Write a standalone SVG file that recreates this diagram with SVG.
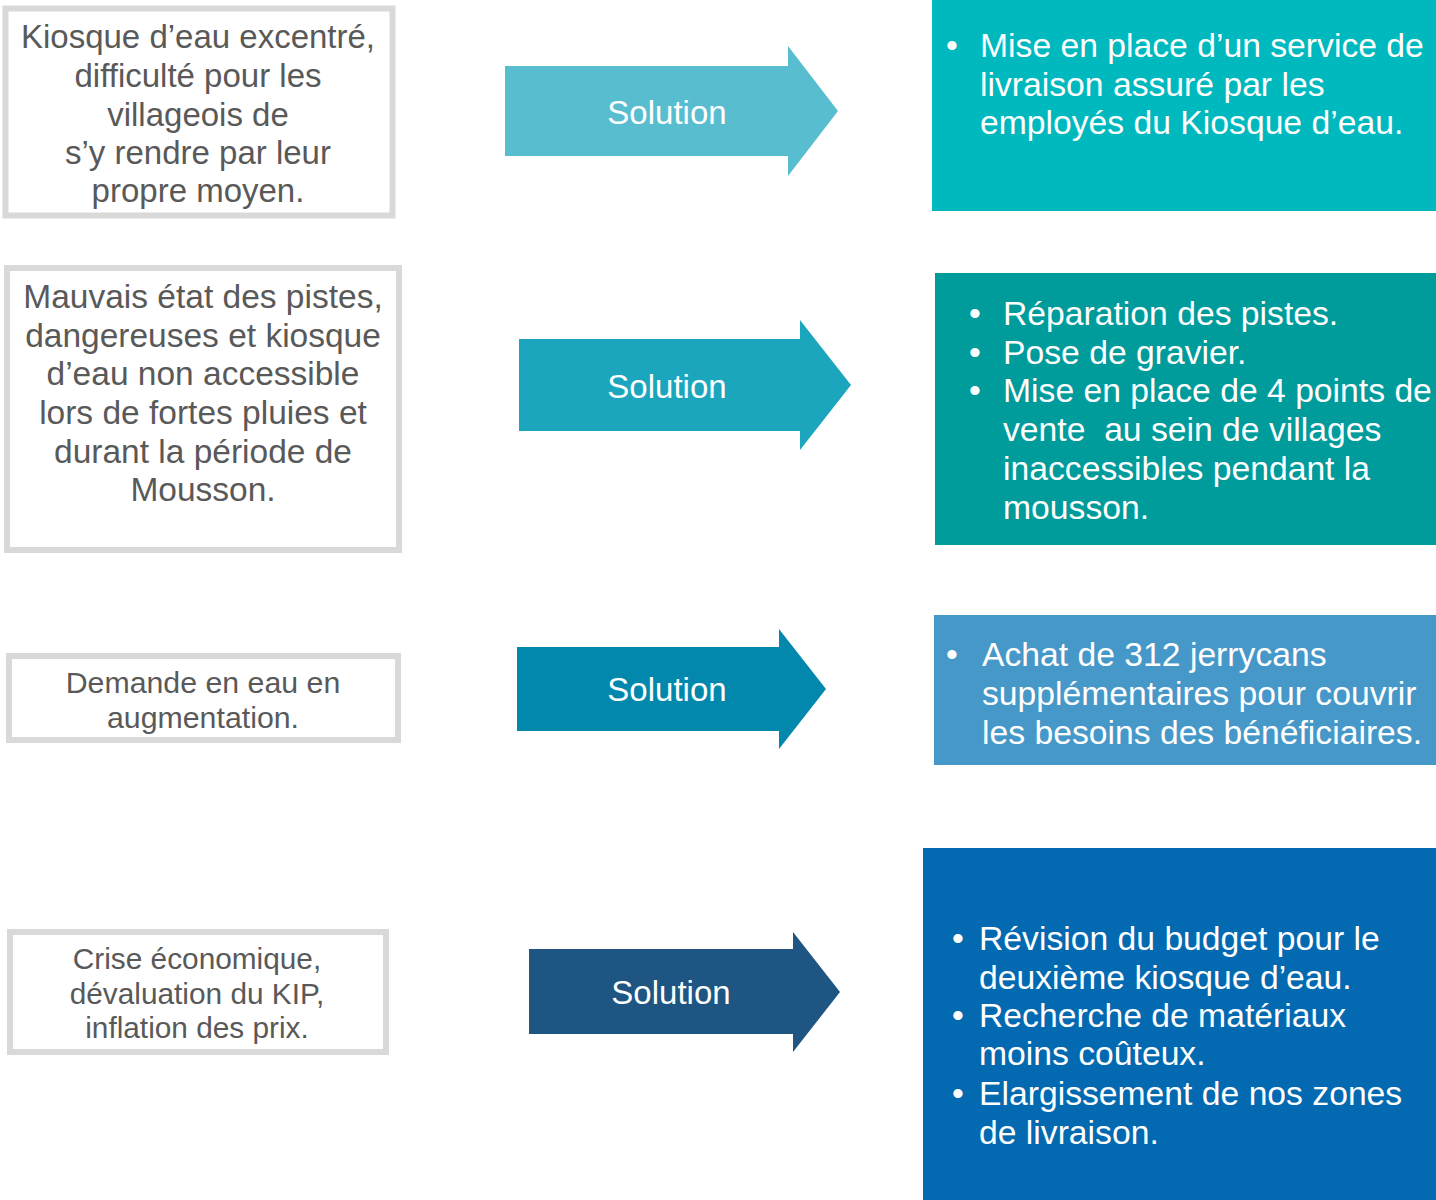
<svg xmlns="http://www.w3.org/2000/svg" width="1436" height="1200" viewBox="0 0 1436 1200">
<style>
.prob{fill:#ffffff;stroke:#d9d9d9;stroke-width:6}
.pt{font-family:"Liberation Sans",Arial,sans-serif;fill:#595959;text-anchor:middle}
.sol{font-family:"Liberation Sans",Arial,sans-serif;fill:#ffffff;font-size:33px;text-anchor:middle}
.rt{font-family:"Liberation Sans",Arial,sans-serif;fill:#ffffff;font-size:33.7px}
</style>
<rect width="1436" height="1200" fill="#ffffff"/>
<g id="problem1">
<rect class="prob" x="5.5" y="8.5" width="387" height="207"/>
<text class="pt" font-size="33"><tspan x="198" y="48">Kiosque d’eau excentré,</tspan><tspan x="198" y="87">difficulté pour les</tspan><tspan x="198" y="126">villageois de</tspan><tspan x="198" y="164">s’y rendre par leur</tspan><tspan x="198" y="202">propre moyen.</tspan></text>
</g>
<g id="problem2">
<rect class="prob" x="7" y="268" width="392" height="282"/>
<text class="pt" font-size="33.5"><tspan x="203" y="308">Mauvais état des pistes,</tspan><tspan x="203" y="347">dangereuses et kiosque</tspan><tspan x="203" y="385">d’eau non accessible</tspan><tspan x="203" y="424">lors de fortes pluies et</tspan><tspan x="203" y="463">durant la période de</tspan><tspan x="203" y="501">Mousson.</tspan></text>
</g>
<g id="problem3">
<rect class="prob" x="9" y="656" width="389" height="84"/>
<text class="pt" font-size="30.3"><tspan x="203" y="693">Demande en eau en</tspan><tspan x="203" y="728">augmentation.</tspan></text>
</g>
<g id="problem4">
<rect class="prob" x="10" y="932" width="376" height="120"/>
<text class="pt" font-size="29.8"><tspan x="197" y="969">Crise économique,</tspan><tspan x="197" y="1004">dévaluation du KIP,</tspan><tspan x="197" y="1038">inflation des prix.</tspan></text>
</g>
<g id="connectors">
<g id="arrow1">
<polygon points="505,66 788,66 788,46 838,111 788,176 788,156 505,156" fill="#59bdd0"/>
<text class="sol" x="667" y="124">Solution</text>
</g>
<g id="arrow2">
<polygon points="519,339 800,339 800,320 851,385 800,450 800,431 519,431" fill="#1ba6bd"/>
<text class="sol" x="667" y="398">Solution</text>
</g>
<g id="arrow3">
<polygon points="517,647 779,647 779,629 826,689 779,749 779,731 517,731" fill="#0288ad"/>
<text class="sol" x="667" y="701">Solution</text>
</g>
<g id="arrow4">
<polygon points="529,949 793,949 793,932 840,992 793,1052 793,1034 529,1034" fill="#1e5582"/>
<text class="sol" x="671" y="1004">Solution</text>
</g>
</g>
<g id="solution1">
<rect x="932" y="0" width="504" height="211" fill="#00b9be"/>
<text class="rt"><tspan x="946" y="57">•</tspan><tspan x="980" y="57">Mise en place d’un service de</tspan><tspan x="980" y="96">livraison assuré par les</tspan><tspan x="980" y="134">employés du Kiosque d’eau.</tspan></text>
</g>
<g id="solution2">
<rect x="935" y="273" width="501" height="272" fill="#009b9b"/>
<text class="rt" xml:space="preserve"><tspan x="969" y="325">•</tspan><tspan x="1003" y="325">Réparation des pistes.</tspan><tspan x="969" y="364">•</tspan><tspan x="1003" y="364">Pose de gravier.</tspan><tspan x="969" y="402">•</tspan><tspan x="1003" y="402">Mise en place de 4 points de</tspan><tspan x="1003" y="441">vente  au sein de villages</tspan><tspan x="1003" y="480">inaccessibles pendant la</tspan><tspan x="1003" y="519">mousson.</tspan></text>
</g>
<g id="solution3">
<rect x="934" y="615" width="502" height="150" fill="#4698c8"/>
<text class="rt"><tspan x="946" y="666">•</tspan><tspan x="982" y="666">Achat de 312 jerrycans</tspan><tspan x="982" y="705">supplémentaires pour couvrir</tspan><tspan x="982" y="744">les besoins des bénéficiaires.</tspan></text>
</g>
<g id="solution4">
<rect x="923" y="848" width="513" height="352" fill="#0369b0"/>
<text class="rt"><tspan x="952" y="950">•</tspan><tspan x="979" y="950">Révision du budget pour le</tspan><tspan x="979" y="989">deuxième kiosque d’eau.</tspan><tspan x="952" y="1027">•</tspan><tspan x="979" y="1027">Recherche de matériaux</tspan><tspan x="979" y="1065">moins coûteux.</tspan><tspan x="952" y="1105">•</tspan><tspan x="979" y="1105">Elargissement de nos zones</tspan><tspan x="979" y="1144">de livraison.</tspan></text>
</g>
</svg>
